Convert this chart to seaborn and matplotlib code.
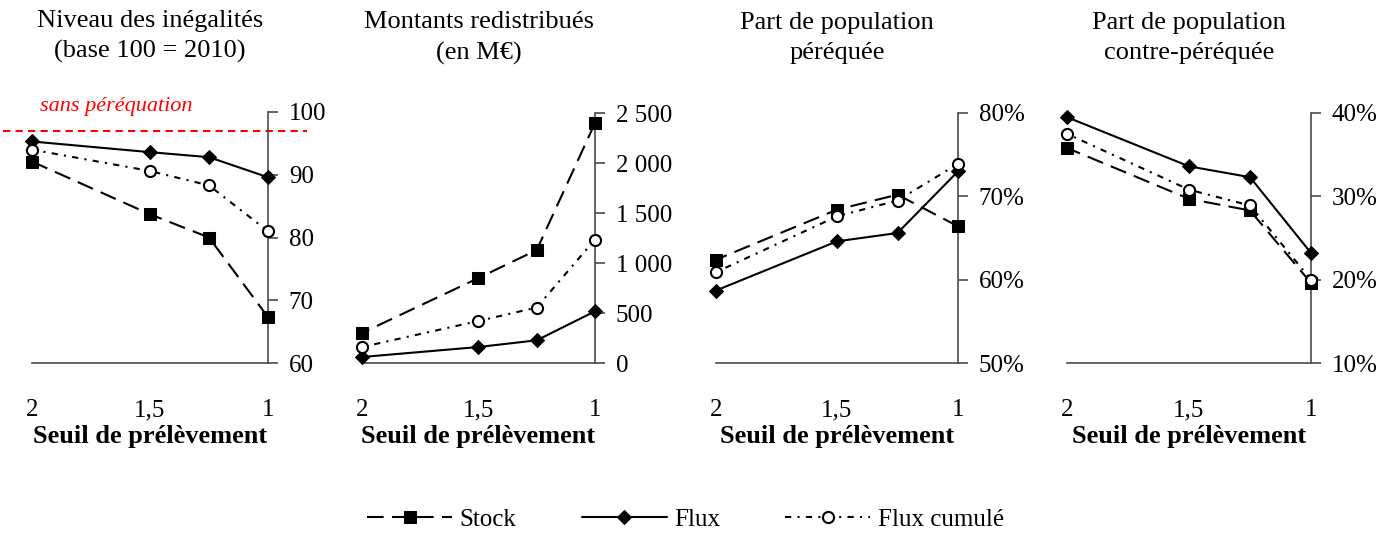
import matplotlib
matplotlib.use("Agg")
import matplotlib.pyplot as plt
import matplotlib.ticker as mticker
import seaborn as sns
import pandas as pd

sns.set_theme(style="white")
plt.rcParams["font.family"] = ["Liberation Serif", "DejaVu Serif"]
plt.rcParams["text.color"] = "black"
plt.rcParams["axes.labelcolor"] = "black"
plt.rcParams["xtick.color"] = "black"
plt.rcParams["ytick.color"] = "black"

# Seuils de prélèvement
seuils = [2.0, 1.5, 1.25, 1.0]

# Niveau des inégalités (base 100 = 2010)
ineg_stock = [92.1, 83.7, 80.0, 67.3]
ineg_flux = [95.3, 93.6, 92.8, 89.6]
ineg_cumul = [94.0, 90.6, 88.3, 81.0]
ineg_sans_pereq = 97.0

# Montants redistribués (M€)
mont_stock = [300, 850, 1130, 2400]
mont_flux = [60, 160, 227, 517]
mont_cumul = [160, 420, 555, 1235]

# Part de population péréquée (%)
pereq_stock = [62.4, 68.4, 70.2, 66.4]
pereq_flux = [58.7, 64.6, 65.6, 73.0]
pereq_cumul = [60.9, 67.6, 69.5, 73.9]

# Part de population contre-péréquée (%)
contre_stock = [35.8, 29.7, 28.3, 19.6]
contre_flux = [39.5, 33.6, 32.3, 23.2]
contre_cumul = [37.5, 30.8, 28.9, 20.0]

titres = ["Niveau des inégalités\n(base 100 = 2010)",
          "Montants redistribués\n(en M€)",
          "Part de population\npéréquée",
          "Part de population\ncontre-péréquée"]
series_noms = ["Stock", "Flux", "Flux cumulé"]
x_ticks = [2, 1.5, 1]
x_labels = ["2", "1,5", "1"]

panneaux = [
    (ineg_stock, ineg_flux, ineg_cumul, (60, 100), [60, 70, 80, 90, 100], "{:.0f}"),
    (mont_stock, mont_flux, mont_cumul, (0, 2500), [0, 500, 1000, 1500, 2000, 2500], "milliers"),
    (pereq_stock, pereq_flux, pereq_cumul, (50, 80), [50, 60, 70, 80], "{:.0f}%"),
    (contre_stock, contre_flux, contre_cumul, (10, 40), [10, 20, 30, 40], "{:.0f}%"),
]

styles = {
    "Stock": dict(linestyle=(0, (8, 4)), marker="s", markersize=9,
                  markerfacecolor="black", markeredgecolor="black"),
    "Flux": dict(linestyle="-", marker="D", markersize=7.5,
                 markerfacecolor="black", markeredgecolor="black"),
    "Flux cumulé": dict(linestyle=(0, (3, 3, 1, 3)), marker="o", markersize=8,
                        markerfacecolor="white", markeredgecolor="black",
                        markeredgewidth=1.5),
}

W, H = 1399, 534
fig = plt.figure(figsize=(W / 100, H / 100), dpi=100)

# axes boxes in pixels: left, right, top, bottom
boites = [(32, 268, 112, 363), (362, 595, 113, 363),
          (716, 958, 113, 363), (1067, 1311, 113, 363)]

axe_col = "#4a4a4a"
axes = []
for i, ((l, r, t, b), (s_st, s_fl, s_cu, ylim, yt, fmt)) in enumerate(zip(boites, panneaux)):
    ax = fig.add_axes([l / W, 1 - b / H, (r - l) / W, (b - t) / H])
    axes.append(ax)
    for nom, vals in zip(series_noms, [s_st, s_fl, s_cu]):
        df = pd.DataFrame({"seuil": seuils, "valeur": vals})
        sns.lineplot(data=df, x="seuil", y="valeur", ax=ax, color="black",
                     linewidth=1.5, label=nom, clip_on=False, zorder=3,
                     **styles[nom])
    ax.set_xlim(2, 1)
    ax.set_ylim(*ylim)
    ax.set_xticks(x_ticks)
    ax.set_xticklabels(x_labels)
    ax.set_yticks(yt)
    if fmt == "milliers":
        ax.yaxis.set_major_formatter(mticker.FuncFormatter(
            lambda v, p: f"{v:,.0f}".replace(",", " ")))
    else:
        ax.yaxis.set_major_formatter(mticker.FuncFormatter(
            lambda v, p, f=fmt: f.format(v)))
    ax.yaxis.tick_right()
    for sp in ["left", "top"]:
        ax.spines[sp].set_visible(False)
    for sp in ["right", "bottom"]:
        ax.spines[sp].set_color(axe_col)
        ax.spines[sp].set_linewidth(1.2)
    ax.tick_params(axis="both", which="major", direction="out", length=7,
                   width=1.2, color=axe_col, labelsize=18, labelcolor="black")
    ax.tick_params(axis="x", pad=19)
    ax.tick_params(axis="y", pad=8)
    ax.set_ylabel("")
    ax.set_xlabel("Seuil de prélèvement", fontsize=19, fontweight="bold",
                  labelpad=3, color="black")
    ax.text(0.5, 1.30, titres[i], transform=ax.transAxes, ha="center",
            va="center", fontsize=19, linespacing=1.45, color="black")
    ax.grid(False)
    ax.get_legend().remove()

# reference line: inequality level without equalisation
ax0 = axes[0]
ax0.plot([2.123, 0.835], [ineg_sans_pereq, ineg_sans_pereq], color="#ff0000",
         linestyle=(0, (3.5, 2.5)), linewidth=1.5, clip_on=False, zorder=2)
ax0.text(1.642, 100.8, "sans péréquation", color="#ff0000", style="italic",
         fontsize=16, ha="center", va="center")

handles, labels = axes[0].get_legend_handles_labels()
fig.legend(handles[:3], labels[:3], loc="center", bbox_to_anchor=(0.49, 0.027),
           ncol=3, frameon=False, fontsize=18, handlelength=3.4,
           columnspacing=2.6, handletextpad=0.3, labelcolor="black")

fig.savefig("out.png", dpi=100)
